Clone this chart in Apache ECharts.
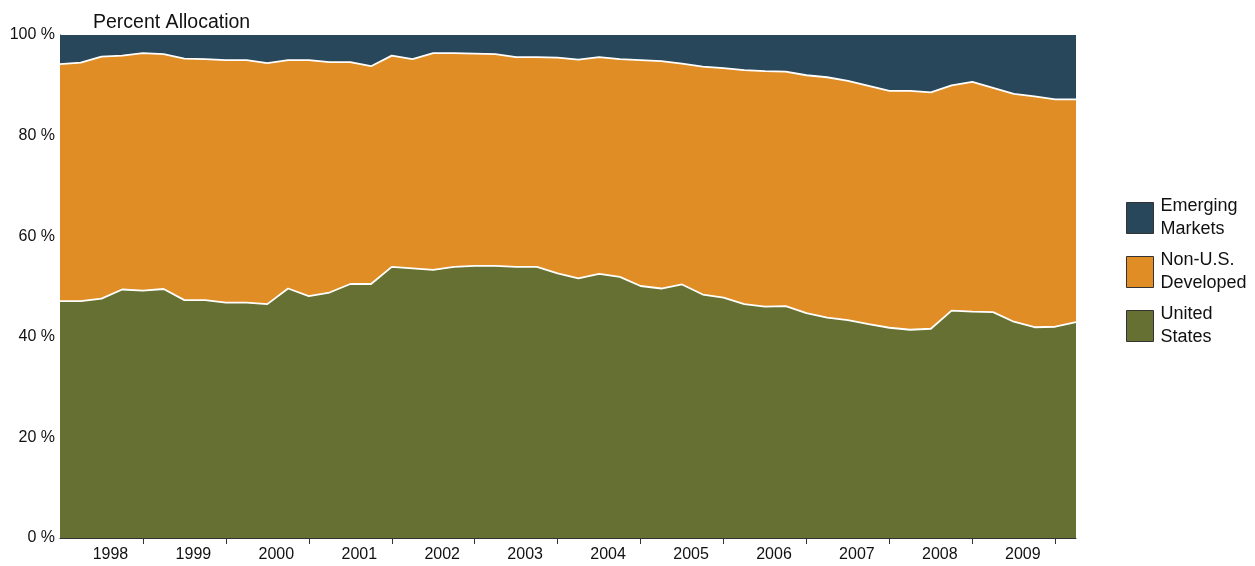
<!DOCTYPE html>
<html>
<head>
<meta charset="utf-8">
<script src="https://cdn.jsdelivr.net/npm/echarts@6/dist/echarts.min.js"></script>
<style>html,body{margin:0;padding:0;background:#fff;}#c{width:1255px;height:566px;}</style>
</head>
<body>
<div id="c"></div>
<script>
// Quarterly observations (50 points), percent allocation
var quarters = [];
for (var q = 0; q < 50; q++) quarters.push('Q' + q);
var yearLabels = ['1998','1999','2000','2001','2002','2003','2004','2005','2006','2007','2008','2009'];
var usShare = [47.1,47.1,47.6,49.4,49.2,49.5,47.3,47.3,46.8,46.8,46.5,49.6,48.1,48.8,50.5,50.5,
  53.9,53.6,53.3,53.9,54.1,54.1,53.9,53.9,52.6,51.6,52.5,51.9,50.1,49.6,50.4,48.4,
  47.8,46.5,46.0,46.1,44.7,43.8,43.3,42.5,41.8,41.4,41.6,45.2,45.0,44.9,43.0,41.9,42.0,42.9];
var usPlusDev = [94.2,94.5,95.7,95.9,96.4,96.2,95.3,95.2,95.0,95.0,94.4,95.0,95.0,94.6,94.6,93.8,
  95.9,95.2,96.4,96.4,96.3,96.2,95.6,95.6,95.5,95.1,95.6,95.2,95.0,94.8,94.3,93.7,
  93.4,93.0,92.8,92.7,92.0,91.6,90.9,89.9,88.9,88.9,88.6,90.0,90.7,89.5,88.3,87.8,87.2,87.2];
var devShare = usPlusDev.map(function(v, i){ return +(v - usShare[i]).toFixed(1); });
var emShare = usPlusDev.map(function(v){ return +(100 - v).toFixed(1); });

var legendText = {
  'Emerging Markets': 'Emerging\nMarkets',
  'Non-U.S. Developed': 'Non-U.S.\nDeveloped',
  'United States': 'United\nStates'
};
var font = 'Liberation Sans, Arial, sans-serif';
var chart = echarts.init(document.getElementById('c'), null, {renderer: 'canvas'});
chart.setOption({
  animation: false,
  title: {
    text: 'Percent Allocation', left: 93, top: 13, padding: 0,
    textStyle: {fontFamily: font, fontSize: 19.5, fontWeight: 'normal', color: '#111'}
  },
  legend: {
    orient: 'vertical', left: 1126, top: 195, padding: 0,
    icon: 'rect', itemWidth: 27, itemHeight: 31, itemGap: 8,
    data: ['Emerging Markets', 'Non-U.S. Developed', 'United States'],
    formatter: function(n){ return legendText[n]; },
    textStyle: {fontFamily: font, fontSize: 18, color: '#111', lineHeight: 23, padding: [0,0,0,2]},
    itemStyle: {borderColor: '#333', borderWidth: 1}
  },
  grid: {left: 60, right: 179, top: 35, bottom: 28, containLabel: false},
  xAxis: {
    type: 'category', boundaryGap: false, data: quarters,
    axisLine: {show: true, lineStyle: {color: '#333', width: 1}},
    axisTick: {show: true, length: 6, interval: function(i){ return i % 4 === 0 && i > 0; }, lineStyle: {color: '#333'}},
    axisLabel: {
      interval: function(i){ return i % 4 === 2; },
      formatter: function(v, i){ return yearLabels[Math.floor(i / 4)] || ''; },
      fontFamily: font, fontSize: 16, color: '#111', margin: 9, padding: [0,0,0,18]
    },
    splitLine: {show: false}
  },
  yAxis: {
    type: 'value', min: 0, max: 100, interval: 20,
    axisLine: {show: true, lineStyle: {color: '#333', width: 1}},
    axisTick: {show: false},
    splitLine: {show: false},
    axisLabel: {formatter: '{value} %', fontFamily: font, fontSize: 16, color: '#111', margin: 5}
  },
  series: [
    {name: 'United States', type: 'line', stack: 'all', data: usShare, symbol: 'none',
     lineStyle: {color: '#ffffff', width: 1.8}, areaStyle: {color: '#657032', opacity: 1},
     itemStyle: {color: '#657032'}, z: 3},
    {name: 'Non-U.S. Developed', type: 'line', stack: 'all', data: devShare, symbol: 'none',
     lineStyle: {color: '#ffffff', width: 1.8}, areaStyle: {color: '#e08d26', opacity: 1},
     itemStyle: {color: '#e08d26'}, z: 2},
    {name: 'Emerging Markets', type: 'line', stack: 'all', data: emShare, symbol: 'none',
     lineStyle: {width: 0}, areaStyle: {color: '#29475a', opacity: 1},
     itemStyle: {color: '#29475a'}, z: 1}
  ]
});
</script>
</body>
</html>
